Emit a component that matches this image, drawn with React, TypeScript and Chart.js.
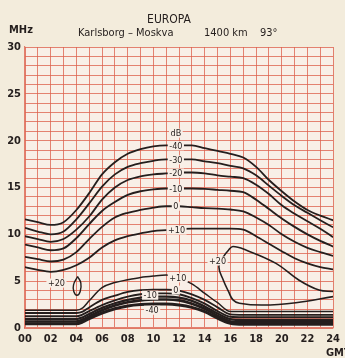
import React, { useEffect, useRef } from "react";
import { Chart, registerables } from "chart.js";

Chart.register(...registerables);

// Hours (GMT) sampled for the upper family of field-strength contours
const upperHours = [0, 1, 2, 3, 4, 5, 6, 7, 8, 9, 10, 11, 12, 13, 14, 15, 16, 17, 18, 19, 20, 21, 22, 23, 24];
const upperMinus40 = [11.6, 11.3, 11.0, 11.3, 12.6, 14.4, 16.4, 17.7, 18.6, 19.1, 19.4, 19.5, 19.5, 19.5, 19.2, 18.9, 18.6, 18.2, 17.2, 15.8, 14.6, 13.5, 12.6, 12.0, 11.5];
const upperMinus30 = [10.7, 10.3, 10.0, 10.3, 11.6, 13.3, 15.1, 16.4, 17.2, 17.6, 17.85, 18.0, 18.0, 18.0, 17.8, 17.6, 17.3, 17.05, 16.3, 15.2, 14.1, 13.1, 12.3, 11.5, 10.75];
const upperMinus20 = [9.8, 9.5, 9.2, 9.5, 10.5, 11.9, 13.7, 15.0, 15.8, 16.2, 16.4, 16.5, 16.6, 16.6, 16.5, 16.3, 16.15, 16.0, 15.3, 14.3, 13.1, 12.2, 11.4, 10.6, 9.7];
const upperMinus10 = [8.9, 8.6, 8.3, 8.5, 9.6, 11.1, 12.5, 13.45, 14.2, 14.6, 14.8, 14.9, 14.9, 14.9, 14.85, 14.75, 14.65, 14.5, 13.7, 12.7, 11.7, 10.8, 10.0, 9.3, 8.7];
const upperZero = [7.6, 7.35, 7.1, 7.3, 8.1, 9.5, 10.8, 11.8, 12.3, 12.6, 12.85, 13.0, 13.0, 12.9, 12.8, 12.75, 12.65, 12.45, 11.8, 11.0, 10.0, 9.2, 8.55, 8.1, 7.7];
const upperPlus10 = [6.5, 6.2, 6.0, 6.2, 6.7, 7.5, 8.6, 9.35, 9.8, 10.1, 10.35, 10.45, 10.55, 10.6, 10.6, 10.6, 10.6, 10.5, 9.8, 9.0, 8.2, 7.45, 6.9, 6.5, 6.25];

// Hours sampled for the lower family (low-frequency limit contours)
const lowerHours = [0, 2, 4, 4.5, 5, 6, 7, 8, 9, 10, 11, 12, 13, 14, 15, 16, 17, 18, 20, 22, 24];
const lowerPlus10 = [1.9, 1.9, 1.9, 2.15, 2.9, 4.3, 4.85, 5.15, 5.4, 5.55, 5.65, 5.3, 4.7, 3.7, 2.7, 1.75, 1.75, 1.75, 1.75, 1.75, 1.75];
const lowerZero = [1.6, 1.6, 1.6, 1.75, 2.2, 3.0, 3.45, 3.85, 4.05, 4.1, 4.1, 4.0, 3.6, 3.0, 2.2, 1.45, 1.4, 1.4, 1.4, 1.4, 1.4];
const lowerMinus10 = [1.25, 1.25, 1.25, 1.45, 1.8, 2.45, 2.95, 3.35, 3.6, 3.7, 3.7, 3.6, 3.2, 2.6, 1.8, 1.2, 1.15, 1.15, 1.15, 1.15, 1.15];
const lowerMinus20 = [0.95, 0.95, 0.95, 1.15, 1.5, 2.15, 2.65, 3.0, 3.25, 3.35, 3.35, 3.25, 2.9, 2.3, 1.55, 0.95, 0.85, 0.85, 0.85, 0.85, 0.85];
const lowerMinus30 = [0.7, 0.7, 0.7, 0.9, 1.25, 1.9, 2.4, 2.75, 2.95, 3.05, 3.05, 2.95, 2.6, 2.05, 1.3, 0.7, 0.6, 0.6, 0.6, 0.6, 0.6];
const lowerMinus40 = [0.45, 0.45, 0.45, 0.65, 1.0, 1.6, 2.05, 2.35, 2.5, 2.55, 2.55, 2.45, 2.2, 1.75, 1.05, 0.5, 0.4, 0.4, 0.4, 0.4, 0.4];

// +20 dB contour in the evening (open loop, traced in order)
const eveningHours = [24, 22.9, 21.35, 19.55, 17.25, 16.2, 15.85, 15.45, 15.1, 15.45, 15.85, 16.2, 16.7, 18.5, 21.1, 24];
const eveningMhz = [3.9, 4.05, 5.1, 6.9, 8.3, 8.7, 8.3, 7.6, 6.55, 5.1, 3.9, 3.0, 2.65, 2.45, 2.7, 3.35];

// small closed +20 dB island near sunrise
const islandHours = [4.1, 4.35, 4.3, 4.05, 3.8, 3.78, 4.1];
const islandMhz = [5.5, 4.8, 3.9, 3.5, 3.9, 4.6, 5.5];

// contour value labels
const labelTexts = ["dB", "-40", "-30", "-20", "-10", "0", "+10", "+10", "0", "-10", "-40", "+20", "+20"];
const labelHours = [11.75, 11.75, 11.75, 11.75, 11.75, 11.75, 11.8, 11.9, 11.75, 9.75, 9.9, 2.45, 15.0];
const labelMhz = [20.8, 19.45, 17.95, 16.55, 14.85, 13.0, 10.45, 5.35, 4.05, 3.5, 1.9, 4.8, 7.15];

// axis tick labels
const hourTicks = ["00", "02", "04", "06", "08", "10", "12", "14", "16", "18", "20", "22", "24"];
const mhzTicks = ["0", "5", "10", "15", "20", "25", "30"];

const FONT = "'DejaVu Sans Condensed', 'DejaVu Sans', sans-serif";
const INK = "#241e1d";
const GRID = "rgba(221, 98, 78, 0.78)";
const PAPER = "#f3ecdc";
const PLOT_PAPER = "#f8efe7";

const pts = (xs: number[], ys: number[]) => xs.map((x, i) => ({ x, y: ys[i] }));

const contourLine = (xs: number[], ys: number[], width: number) => ({
  data: pts(xs, ys),
  borderColor: INK,
  borderWidth: width,
  pointRadius: 0,
  fill: false,
  cubicInterpolationMode: "monotone" as const,
});

const paperPlugin = {
  id: "paper",
  beforeDraw(chart: any) {
    const { ctx, chartArea } = chart;
    ctx.save();
    ctx.fillStyle = PAPER;
    ctx.fillRect(0, 0, chart.width, chart.height);
    ctx.fillStyle = PLOT_PAPER;
    ctx.fillRect(chartArea.left, chartArea.top, chartArea.right - chartArea.left, chartArea.bottom - chartArea.top);
    ctx.restore();
  },
};

const labelsPlugin = {
  id: "contourLabels",
  afterDatasetsDraw(chart: any) {
    const { ctx } = chart;
    const xs = chart.scales.x;
    const ys = chart.scales.y;
    ctx.save();
    ctx.font = `9px ${FONT}`;
    ctx.textAlign = "center";
    ctx.textBaseline = "middle";
    labelTexts.forEach((t, i) => {
      const px = xs.getPixelForValue(labelHours[i]);
      const py = ys.getPixelForValue(labelMhz[i]);
      const w = ctx.measureText(t).width;
      ctx.fillStyle = PLOT_PAPER;
      ctx.fillRect(px - w / 2 - 1.5, py - 4.5, w + 3, 9);
      ctx.fillStyle = INK;
      ctx.fillText(t, px, py + 0.5);
    });
    ctx.restore();
  },
};

const headingPlugin = {
  id: "heading",
  afterDraw(chart: any) {
    const { ctx } = chart;
    ctx.save();
    ctx.fillStyle = INK;
    ctx.textBaseline = "middle";
    ctx.textAlign = "center";
    ctx.font = `12px ${FONT}`;
    ctx.fillText("EUROPA", 169, 19.5);
    ctx.textAlign = "left";
    ctx.font = `11px ${FONT}`;
    ctx.fillText("Karlsborg – Moskva", 78, 33);
    ctx.fillText("1400 km", 204, 33);
    ctx.fillText("93°", 260, 33);
    ctx.font = `bold 11px ${FONT}`;
    ctx.fillText("MHz", 9, 30);
    ctx.fillText("GMT", 326, 353);
    ctx.restore();
  },
};

export default function App() {
  const ref = useRef<HTMLCanvasElement | null>(null);

  useEffect(() => {
    if (!ref.current) return;
    const chart = new Chart(ref.current, {
      type: "line",
      data: {
        datasets: [
          contourLine(upperHours, upperMinus40, 1.8),
          contourLine(upperHours, upperMinus30, 1.8),
          contourLine(upperHours, upperMinus20, 1.8),
          contourLine(upperHours, upperMinus10, 1.9),
          contourLine(upperHours, upperZero, 1.8),
          contourLine(upperHours, upperPlus10, 1.8),
          contourLine(lowerHours, lowerPlus10, 1.5),
          contourLine(lowerHours, lowerZero, 1.8),
          contourLine(lowerHours, lowerMinus10, 1.9),
          contourLine(lowerHours, lowerMinus20, 2.2),
          contourLine(lowerHours, lowerMinus30, 2.6),
          contourLine(lowerHours, lowerMinus40, 3),
          {
            data: pts(eveningHours, eveningMhz),
            borderColor: INK,
            borderWidth: 1.6,
            pointRadius: 0,
            fill: false,
            tension: 0.4,
          },
          {
            data: pts(islandHours, islandMhz),
            borderColor: INK,
            borderWidth: 1.4,
            pointRadius: 0,
            fill: false,
            tension: 0.45,
          },
        ],
      },
      options: {
        animation: false,
        responsive: false,
        devicePixelRatio: 1,
        layout: { padding: { left: 0, right: 7, top: 47, bottom: 0 } },
        plugins: { legend: { display: false }, tooltip: { enabled: false } },
        scales: {
          x: {
            type: "linear",
            min: 0,
            max: 24,
            afterFit: (s: any) => { s.height = 30; },
            grid: { color: GRID, lineWidth: 1, drawTicks: false },
            border: { color: GRID, width: 1.2 },
            ticks: {
              stepSize: 1,
              autoSkip: false,
              maxRotation: 0,
              maxTicksLimit: 100,
              padding: 5,
              color: INK,
              font: { family: FONT, size: 11, weight: "bold" },
              callback: (v: any) => (Number(v) % 2 === 0 ? hourTicks[Number(v) / 2] : ""),
            },
          },
          y: {
            type: "linear",
            min: 0,
            max: 30,
            afterFit: (s: any) => { s.width = 25; },
            grid: { color: GRID, lineWidth: 1, drawTicks: false },
            border: { color: GRID, width: 1.2 },
            ticks: {
              stepSize: 1,
              autoSkip: false,
              maxTicksLimit: 100,
              padding: 4,
              color: INK,
              font: { family: FONT, size: 11, weight: "bold" },
              callback: (v: any) => (Number(v) % 5 === 0 ? mhzTicks[Number(v) / 5] : ""),
            },
          },
        },
      },
      plugins: [paperPlugin, labelsPlugin, headingPlugin],
    } as any);
    return () => chart.destroy();
  }, []);

  return (
    <div style={{ position: "absolute", left: 0, top: 0, width: 345, height: 358, background: PAPER }}>
      <canvas ref={ref} width={345} height={358} style={{ display: "block" }} />
    </div>
  );
}
